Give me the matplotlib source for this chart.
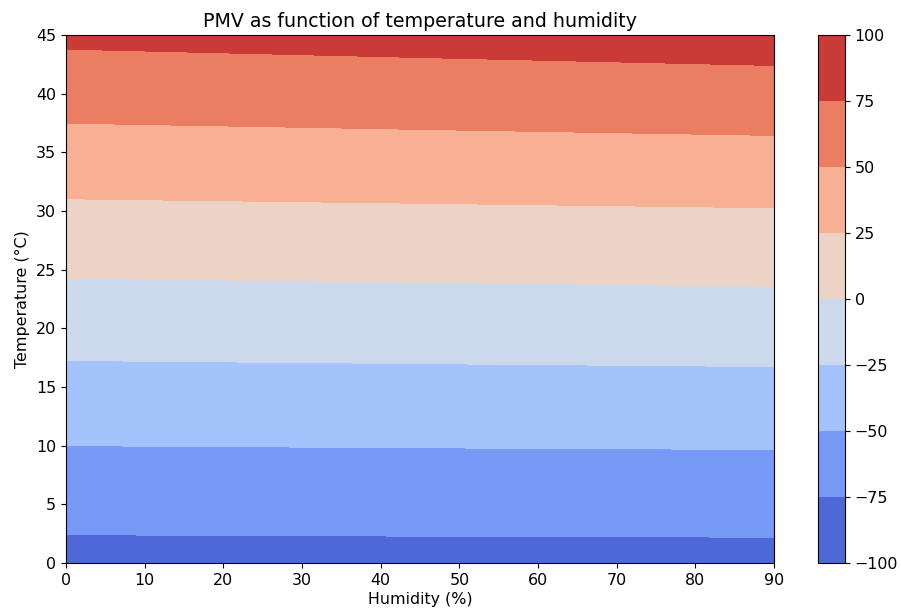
import numpy as np
import matplotlib.pyplot as plt

plt.rcParams['font.size'] = 11.4
plt.rcParams['axes.titlesize'] = 13.7

# grid
humidity = [0, 45, 90]
temperature = [0, 5, 10, 15, 20, 25, 30, 35, 40, 45]

# PMV values (rows = temperature, cols = humidity)
pmv_h0 = [-83.0, -66.4, -50.0, -32.9, -15.4, 2.6, 21.0, 40.2, 59.9, 79.8]
pmv_h45 = [-82.6, -66.0, -49.4, -32.1, -14.3, 3.9, 22.4, 42.1, 62.3, 82.9]
pmv_h90 = [-82.3, -65.7, -48.9, -31.3, -13.2, 5.2, 23.9, 44.0, 64.8, 86.0]

levels = [-100, -75, -50, -25, 0, 25, 50, 75, 100]

H, T = np.meshgrid(humidity, temperature)
pmv = np.column_stack([pmv_h0, pmv_h45, pmv_h90])

fig = plt.figure(figsize=(9.01, 6.14), dpi=100)
ax = fig.add_axes([66 / 901, 1 - 563 / 614, 708 / 901, 528 / 614])
cax = fig.add_axes([818 / 901, 1 - 563 / 614, 27 / 901, 528 / 614])

cs = ax.contourf(H, T, pmv, levels=levels, cmap='coolwarm')
cb = fig.colorbar(cs, cax=cax)
cb.set_ticks(levels)

ax.set_xlim(0, 90)
ax.set_ylim(0, 45)
ax.set_xlabel('Humidity (%)', labelpad=3)
ax.set_ylabel('Temperature (°C)')
ax.set_title('PMV as function of temperature and humidity')

fig.savefig('out.png', dpi=100)
